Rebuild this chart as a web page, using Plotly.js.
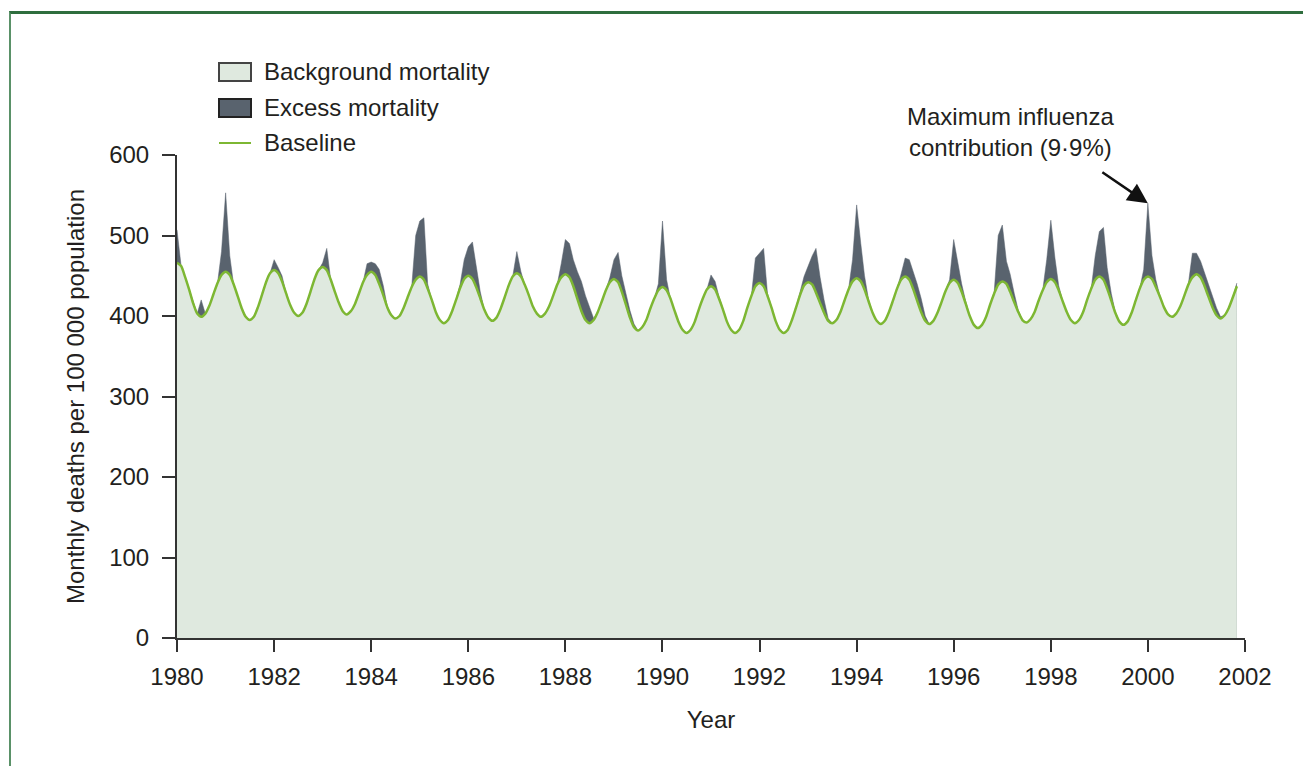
<!DOCTYPE html>
<html>
<head>
<meta charset="utf-8">
<script src="https://cdn.plot.ly/plotly-3.0.1.min.js"></script>
<style>
  html, body { margin: 0; padding: 0; background: #ffffff; }
  #wrap { position: relative; width: 1303px; height: 766px; overflow: hidden; }
  #chart { width: 1303px; height: 766px; }
  #frame { position: absolute; left: 9px; top: 11px; width: 1400px; height: 900px;
           border-top: 3px solid #2f6e3e; border-left: 2px solid #5a9168; pointer-events: none; }
</style>
</head>
<body>
<div id="wrap">
  <div id="chart"></div>
  <div id="frame"></div>
</div>
<script>
// ---- Data (monthly, Jan 1980 – Nov 2001) ----
const startYear = 1980;
const endYear = 2001;

// Baseline (seasonal expected deaths per 100 000), Jan..Dec per row
const baseline = [
  466,462,449,433,416,403,399,403,413,427,441,451, // 1980
  455,451,440,425,410,399,395,399,411,426,442,453, // 1981
  457,453,443,428,414,404,400,404,415,430,446,457, // 1982
  461,457,446,431,417,406,402,406,415,428,442,451, // 1983
  455,451,440,426,411,401,397,400,410,423,436,445, // 1984
  449,445,434,420,405,395,391,395,406,420,435,446, // 1985
  450,446,436,422,408,398,394,398,409,423,438,449, // 1986
  453,449,439,426,412,403,399,403,412,425,439,448, // 1987
  452,448,437,421,406,395,391,395,405,418,432,442, // 1988
  446,442,430,414,398,386,382,386,395,409,422,432, // 1989
  436,432,422,407,393,383,379,383,393,408,422,433, // 1990
  437,433,422,408,393,383,379,383,394,410,425,437, // 1991
  441,437,425,410,394,383,379,383,395,410,426,438, // 1992
  442,439,429,416,404,394,391,395,405,419,433,443, // 1993
  447,443,433,418,404,394,390,394,405,419,434,445, // 1994
  449,445,434,419,405,394,390,394,404,417,431,441, // 1995
  445,441,430,415,400,389,385,389,399,414,428,439, // 1996
  443,440,430,417,405,395,392,396,405,419,432,442, // 1997
  446,442,432,418,405,395,391,395,405,420,434,445, // 1998
  449,445,434,419,404,393,389,393,404,419,434,445, // 1999
  449,446,436,424,411,402,399,403,412,425,439,448, // 2000
  452,448,438,424,411,401,397,401,410,423,437      // 2001 (Jan–Nov)
];

// Observed all-cause deaths per 100 000 (background + excess)
const observed = [
  507,462,449,433,416,403,420,403,413,427,441,480, // 1980
  553,475,440,425,410,399,395,399,411,426,442,453, // 1981
  470,460,450,429,414,404,400,404,415,430,446,457, // 1982
  466,484,447,431,417,406,402,406,415,428,442,465, // 1983
  467,465,458,438,412,401,397,400,410,423,436,500, // 1984
  518,522,440,420,405,395,391,395,406,420,440,470, // 1985
  486,492,462,430,408,398,394,398,409,423,438,449, // 1986
  480,455,439,426,412,403,399,403,412,425,439,465, // 1987
  495,490,470,455,443,425,410,397,405,418,432,448, // 1988
  470,479,450,428,407,390,382,386,395,409,422,440, // 1989
  518,445,422,407,393,383,379,383,393,408,422,433, // 1990
  451,443,425,408,393,383,379,383,394,410,425,472, // 1991
  478,484,428,410,394,383,379,383,395,410,430,449, // 1992
  462,475,484,448,420,397,391,395,405,419,433,470, // 1993
  538,490,450,420,404,394,390,394,405,419,434,452, // 1994
  472,470,457,440,422,400,390,394,404,417,431,445, // 1995
  495,465,440,418,400,389,385,389,399,414,430,500, // 1996
  513,468,452,428,407,395,392,396,405,419,432,470, // 1997
  519,472,438,418,405,395,391,395,405,420,434,475, // 1998
  505,510,460,428,405,393,389,393,404,419,434,458, // 1999
  540,475,445,425,411,402,399,403,412,425,440,478, // 2000
  478,468,455,440,425,410,399,401,410,423,441      // 2001 (Jan–Nov)
];

const yTicks = [0, 100, 200, 300, 400, 500, 600];
const xTickYears = [1980,1982,1984,1986,1988,1990,1992,1994,1996,1998,2000,2002];
const legendLabels = ['Background mortality', 'Excess mortality', 'Baseline'];
const annotationText = 'Maximum influenza<br>contribution (9·9%)';
const maxContributionMonth = '2000-01-01';

// month dates
const dates = [];
for (let y = startYear; y <= endYear; y++) {
  for (let m = 1; m <= 12; m++) {
    if (dates.length < baseline.length) dates.push(y + '-' + String(m).padStart(2, '0') + '-01');
  }
}
const peakIdx = dates.indexOf(maxContributionMonth);

const COL_BG = '#dfe9df';
const COL_EXCESS = '#59636e';
const COL_BASE = '#7db733';
const COL_TEXT = '#231f20';
const COL_AXIS = '#333333';
const FONT = 'Liberation Sans, Arial, sans-serif';

const traces = [
  { x: dates, y: observed, type: 'scatter', mode: 'lines', name: legendLabels[1],
    fill: 'tozeroy', fillcolor: COL_EXCESS, line: { color: COL_EXCESS, width: 0.5 },
    showlegend: false },
  { x: dates, y: baseline, type: 'scatter', mode: 'lines', name: legendLabels[2],
    fill: 'tozeroy', fillcolor: COL_BG, line: { color: COL_BASE, width: 2.5, shape: 'spline', smoothing: 0.6 },
    showlegend: false }
];

// plot geometry (pixels)
const W = 1303, H = 766, L = 177, R = 58, T = 155, B = 128;
const pw = W - L - R, ph = H - T - B;
const px = v => (v - L) / pw;
const py = v => (H - B - v) / ph;

const shapes = [
  { type: 'rect', xref: 'paper', yref: 'paper', x0: px(219), x1: px(251), y0: py(81), y1: py(63),
    fillcolor: COL_BG, line: { color: '#444444', width: 2 } },
  { type: 'rect', xref: 'paper', yref: 'paper', x0: px(219), x1: px(251), y0: py(117), y1: py(99),
    fillcolor: COL_EXCESS, line: { color: '#222222', width: 2 } },
  { type: 'line', xref: 'paper', yref: 'paper', x0: px(219), x1: px(251), y0: py(143), y1: py(143),
    line: { color: COL_BASE, width: 2 } }
];

const annotations = [
  { xref: 'paper', yref: 'paper', x: px(262), y: py(72), xanchor: 'left', yanchor: 'middle',
    text: legendLabels[0], showarrow: false, font: { family: FONT, size: 24, color: COL_TEXT } },
  { xref: 'paper', yref: 'paper', x: px(262), y: py(107), xanchor: 'left', yanchor: 'middle',
    text: legendLabels[1], showarrow: false, font: { family: FONT, size: 24, color: COL_TEXT } },
  { xref: 'paper', yref: 'paper', x: px(262), y: py(143), xanchor: 'left', yanchor: 'middle',
    text: legendLabels[2], showarrow: false, font: { family: FONT, size: 24, color: COL_TEXT } },
  { xref: 'paper', yref: 'paper', x: px(1010), y: py(132), xanchor: 'center', yanchor: 'middle',
    text: annotationText, showarrow: false, align: 'center',
    font: { family: FONT, size: 24, color: COL_TEXT } },
  { xref: 'x', yref: 'y', x: dates[peakIdx], y: observed[peakIdx], text: '',
    showarrow: true, arrowhead: 2, arrowsize: 1.6, arrowwidth: 2.5, arrowcolor: '#111111',
    ax: -47, ay: -32, standoff: 0 }
];

const layout = {
  width: W, height: H,
  margin: { l: L, r: R, t: T, b: B, pad: 0 },
  paper_bgcolor: '#ffffff', plot_bgcolor: '#ffffff',
  font: { family: FONT, size: 24, color: COL_TEXT },
  showlegend: false,
  xaxis: {
    type: 'date',
    range: [startYear + '-01-01', (endYear + 1) + '-01-01'],
    tickvals: xTickYears.map(y => y + '-01-01'),
    ticktext: xTickYears.map(String),
    ticks: 'outside', ticklen: 12, tickwidth: 2, tickcolor: COL_AXIS,
    showline: true, linewidth: 2, linecolor: COL_AXIS,
    showgrid: false, zeroline: false,
    tickfont: { family: FONT, size: 24, color: COL_TEXT },
    ticklabelstandoff: 4,
    title: { text: 'Year', font: { family: FONT, size: 24, color: COL_TEXT }, standoff: 22 }
  },
  yaxis: {
    range: [0, 600],
    tickvals: yTicks,
    ticks: 'outside', ticklen: 13, tickwidth: 2, tickcolor: COL_AXIS,
    showline: true, linewidth: 2, linecolor: COL_AXIS,
    showgrid: false, zeroline: false,
    tickfont: { family: FONT, size: 24, color: COL_TEXT },
    ticklabelstandoff: 8,
    title: { text: 'Monthly deaths per 100 000 population', font: { family: FONT, size: 24, color: COL_TEXT }, standoff: 18 }
  },
  shapes: shapes,
  annotations: annotations
};

Plotly.newPlot('chart', traces, layout, { displayModeBar: false, staticPlot: true });
</script>
</body>
</html>
